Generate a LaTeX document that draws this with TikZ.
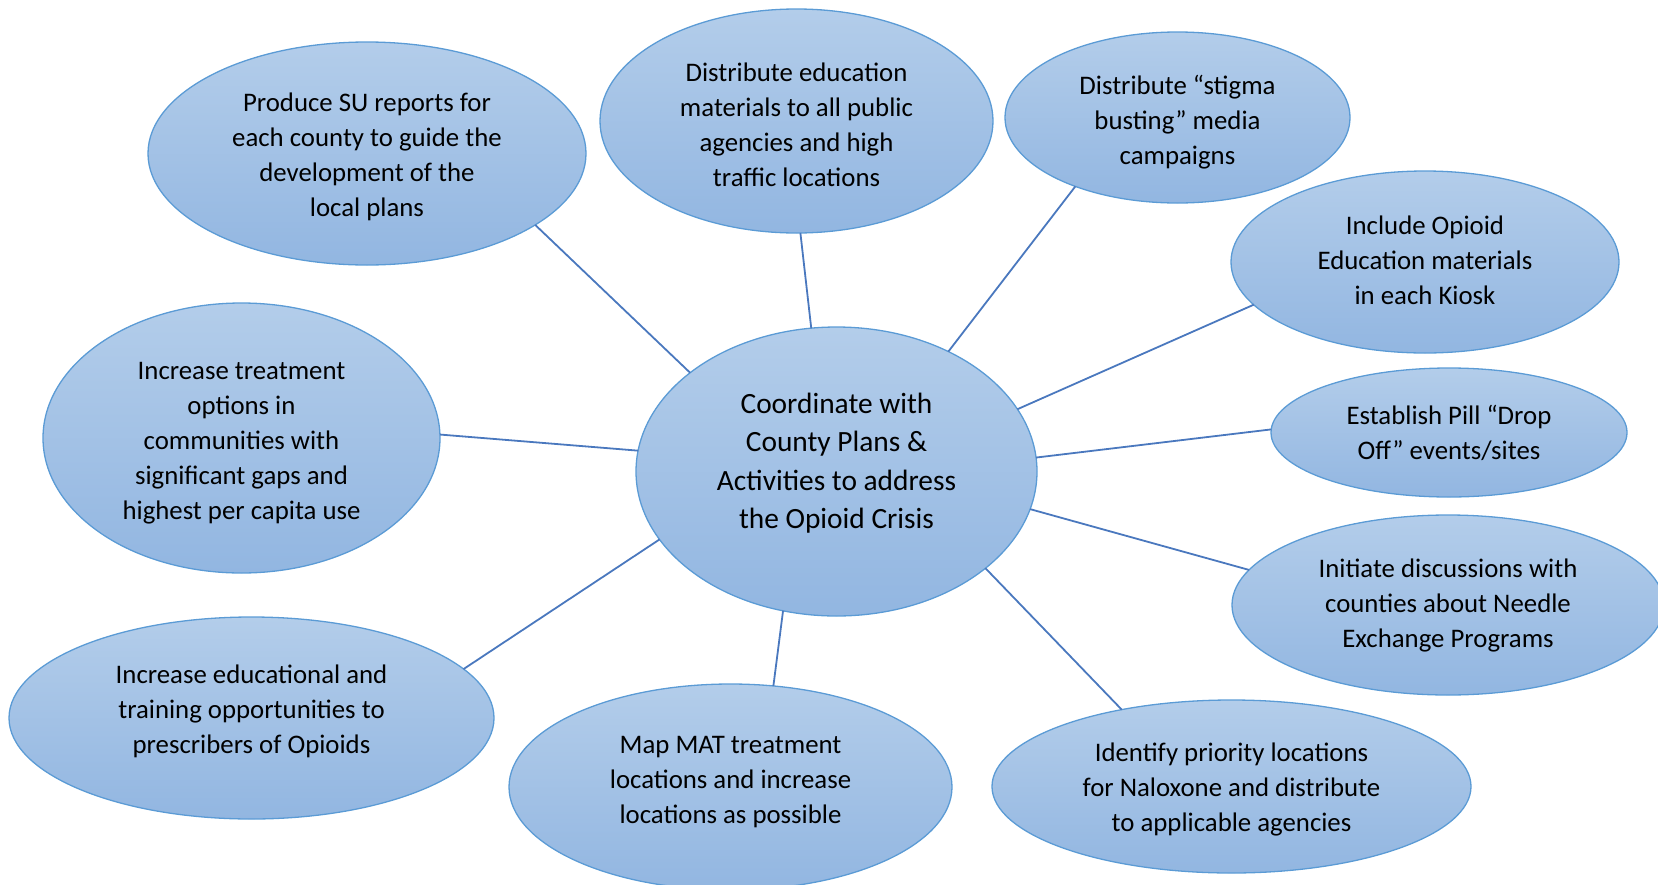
\documentclass[tikz,border=0pt]{standalone}
\usepackage{fontspec}
\setmainfont{Carlito}
\usetikzlibrary{shapes.geometric}
\definecolor{bubline}{HTML}{5B9BD5}
\definecolor{bubtop}{HTML}{B3CDEA}
\definecolor{bubbot}{HTML}{92B6E1}
\definecolor{conline}{HTML}{4A78BE}
\newcommand\bubfont{\fontsize{26.8}{35}\selectfont}
\newcommand\hubfont{\fontsize{29.4}{38.3}\selectfont}
\tikzset{
  bub/.style={ellipse, draw=bubline, line width=1.3pt, top color=bubtop, bottom color=bubbot,
    inner sep=0pt, outer sep=0pt, align=center, font=\bubfont, text=black},
  con/.style={draw=conline, line width=1.8pt}
}
\begin{document}
\begin{tikzpicture}[x=1pt,y=-1pt]
\useasboundingbox (0,0) rectangle (1658,884);
\node[bub, font=\hubfont, text height=118.5pt, minimum width=401pt, minimum height=289pt] (hub) at (836.5,471.5)
  {Coordinate with\\County Plans \&\\Activities to address\\the Opioid Crisis};
\node[bub, text height=130.2pt, minimum width=438pt, minimum height=223pt] (s1) at (367,153.5)
  {Produce SU reports for\\each county to guide the\\development of the\\local plans};
\node[bub, text height=130.2pt, minimum width=393pt, minimum height=224pt] (s2) at (796.5,121)
  {Distribute education\\materials to all public\\agencies and high\\traffic locations};
\node[bub, text height=99.4pt, minimum width=345pt, minimum height=171pt] (s3) at (1177.5,117.5)
  {Distribute “stigma\\busting” media\\campaigns};
\node[bub, text height=84.6pt, minimum width=388pt, minimum height=182pt] (s4) at (1425,262)
  {Include Opioid\\Education materials\\in each Kiosk};
\node[bub, minimum width=356pt, minimum height=129pt] (s5) at (1449,432.5)
  {Establish Pill “Drop\\Off” events/sites};
\node[bub, minimum width=432pt, minimum height=180pt] (s6) at (1448,605)
  {Initiate discussions with\\counties about Needle\\Exchange Programs};
\node[bub, text height=95.2pt, minimum width=479pt, minimum height=173pt] (s7) at (1231.5,786.5)
  {Identify priority locations\\for Naloxone and distribute\\to applicable agencies};
\node[bub, text height=76.7pt, minimum width=443pt, minimum height=206pt] (s8) at (730.5,787)
  {Map MAT treatment\\locations and increase\\locations as possible};
\node[bub, text height=76.2pt, minimum width=485pt, minimum height=202pt] (s9) at (251.5,718)
  {Increase educational and\\training opportunities to\\prescribers of Opioids};
\node[bub, text height=167.2pt, minimum width=397pt, minimum height=270pt] (s10) at (241.5,438)
  {Increase treatment\\options in\\communities with\\significant gaps and\\highest per capita use};
\draw[con] (hub.146.5) -- (s1.-23.1);
\draw[con] (hub.100.9) -- (s2.-88.3);
\draw[con] (hub.47.1) -- (s3.-146.9);
\draw[con] (hub.19.6) -- (s4.-166.6);
\draw[con] (hub.4.2) -- (s5.179.5);
\draw[con] (hub.-11.8) -- (s6.170.7);
\draw[con] (hub.-33.0) -- (s7.145.2);
\draw[con] (hub.-111.1) -- (s8.67.4);
\draw[con] (hub.-159.0) -- (s9.13.2);
\draw[con] (hub.174.0) -- (s10.1.6);
\end{tikzpicture}
\end{document}
